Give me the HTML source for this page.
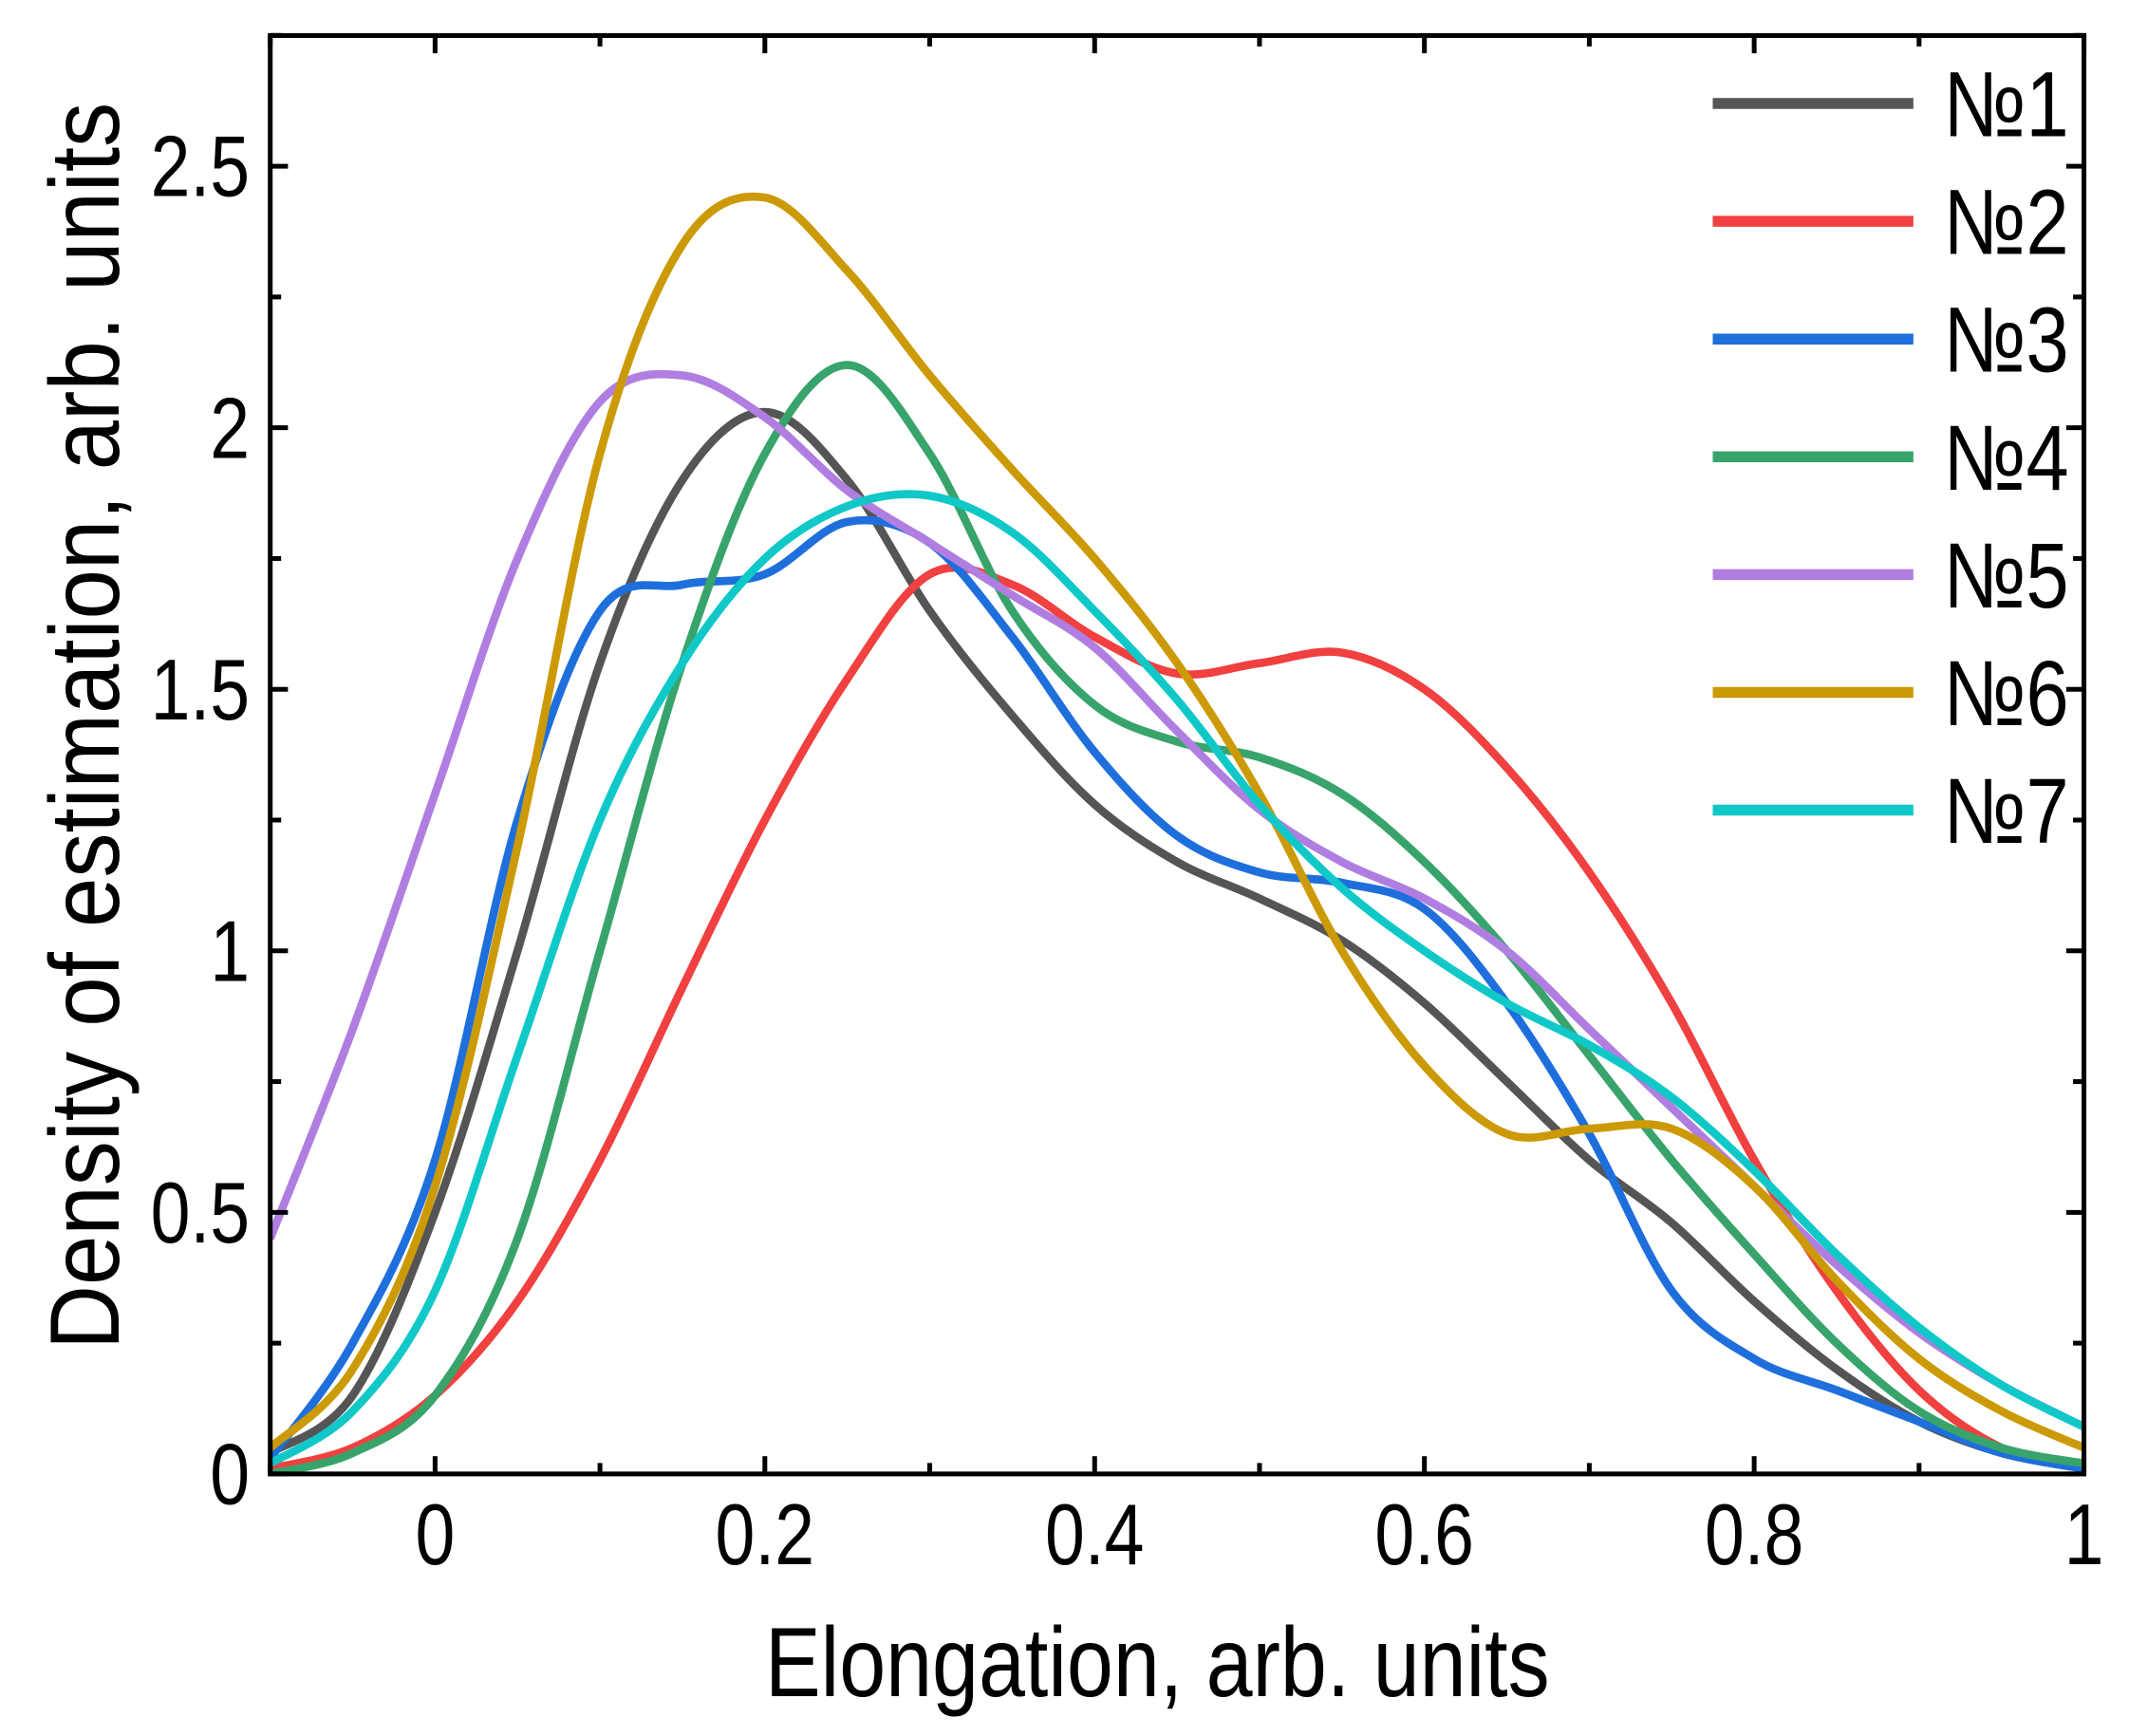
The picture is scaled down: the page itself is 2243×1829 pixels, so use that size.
<!DOCTYPE html>
<html><head><meta charset="utf-8">
<style>html,body{margin:0;padding:0;background:#fff}svg{display:block}</style>
</head><body>
<svg id="chart" width="2243" height="1829" viewBox="0 0 1560 1272" xmlns="http://www.w3.org/2000/svg" font-family="'Liberation Sans', Arial, sans-serif">
<defs><clipPath id="plotclip"><rect x="198" y="26" width="1329" height="1054"/></clipPath></defs>
<g id="curves" clip-path="url(#plotclip)"></g>
<rect x="198" y="26" width="1329" height="1054" fill="none" stroke="#000" stroke-width="3.5"/>
<g id="ticks"></g>
<g id="legend"></g>
<text class="cond" data-f="0.85" x="848" y="1243" font-size="72" text-anchor="middle">Elongation, arb. units</text>
<text class="cond" data-f="0.91" transform="translate(87,532) rotate(-90)" font-size="72" text-anchor="middle">Density of estimation, arb. units</text>
</svg>
<script>
const xs = [-0.1,-0.05,0,0.05,0.1,0.15,0.2,0.25,0.3,0.35,0.4,0.45,0.5,0.55,0.6,0.65,0.7,0.75,0.8,0.85,0.9,0.95,1.0];
const s1 = [0.04,0.15,0.5,1.0,1.55,1.9,2.03,1.9,1.65,1.45,1.28,1.17,1.1,1.02,0.9,0.75,0.6,0.48,0.33,0.2,0.1,0.04,0.01];
const s2 = [0.01,0.05,0.15,0.33,0.6,0.93,1.25,1.52,1.72,1.7,1.6,1.53,1.55,1.57,1.5,1.35,1.15,0.9,0.6,0.35,0.16,0.05,0.01];
const s3 = [0.03,0.25,0.6,1.25,1.65,1.7,1.72,1.82,1.78,1.6,1.38,1.22,1.15,1.13,1.08,0.9,0.65,0.35,0.22,0.16,0.1,0.04,0.01];
const s4 = [0.0,0.04,0.15,0.45,1.0,1.55,1.95,2.12,1.95,1.65,1.47,1.4,1.37,1.3,1.17,1.0,0.8,0.6,0.42,0.25,0.12,0.05,0.02];
const s5 = [0.45,0.85,1.3,1.75,2.05,2.1,2.02,1.88,1.78,1.68,1.58,1.42,1.27,1.17,1.1,1.0,0.85,0.7,0.55,0.4,0.27,0.17,0.09];
const s6 = [0.05,0.2,0.55,1.2,1.95,2.35,2.44,2.3,2.1,1.92,1.75,1.55,1.3,1.0,0.78,0.65,0.66,0.66,0.55,0.37,0.22,0.12,0.05];
const s7 = [0.02,0.12,0.35,0.8,1.25,1.55,1.75,1.85,1.87,1.8,1.65,1.48,1.28,1.12,1.0,0.9,0.82,0.72,0.58,0.42,0.28,0.17,0.09];
const seriesNames = ["№1","№2","№3","№4","№5","№6","№7"];
const seriesColors = ["#555555","#f04040","#1e6fdc","#38a46c","#b07ee0","#cc9a06","#10c8c8"];
const xTicks = [0,0.2,0.4,0.6,0.8,1];
const xTickLabels = ["0","0.2","0.4","0.6","0.8","1"];
const yTicks = [0,0.5,1,1.5,2,2.5];
const yTickLabels = ["0","0.5","1","1.5","2","2.5"];

const NS = "http://www.w3.org/2000/svg";
const X = v => 318.8 + v * 1208.2;
const Y = v => 1080 - v * 383.3;
const allSeries = [s1,s2,s3,s4,s5,s6,s7];

function pathFor(vals){
  const p = xs.map((x,i)=>[X(x),Y(vals[i])]);
  let d = "M"+p[0][0]+","+p[0][1];
  for(let i=0;i<p.length-1;i++){
    const p0=p[Math.max(0,i-1)],p1=p[i],p2=p[i+1],p3=p[Math.min(p.length-1,i+2)];
    const c1=[p1[0]+(p2[0]-p0[0])/6,p1[1]+(p2[1]-p0[1])/6];
    const c2=[p2[0]-(p3[0]-p1[0])/6,p2[1]-(p3[1]-p1[1])/6];
    d+=" C"+c1[0]+","+c1[1]+" "+c2[0]+","+c2[1]+" "+p2[0]+","+p2[1];
  }
  return d;
}
const curves = document.getElementById("curves");
allSeries.forEach((vals,k)=>{
  const path = document.createElementNS(NS,"path");
  path.setAttribute("d",pathFor(vals));
  path.setAttribute("fill","none");
  path.setAttribute("stroke",seriesColors[k]);
  path.setAttribute("stroke-width","6");
  
  
  curves.appendChild(path);
});

const ticks = document.getElementById("ticks");
function line(x1,y1,x2,y2,name){
  const l=document.createElementNS(NS,"line");
  l.setAttribute("x1",x1);l.setAttribute("y1",y1);l.setAttribute("x2",x2);l.setAttribute("y2",y2);
  l.setAttribute("stroke","#000");l.setAttribute("stroke-width","3.5");
  
  
  ticks.appendChild(l);
}
function text(x,y,str,anchor,name){
  const t=document.createElementNS(NS,"text");
  t.setAttribute("x",x);t.setAttribute("y",y);t.setAttribute("font-size","63");
  t.setAttribute("text-anchor",anchor);t.textContent=str;
  t.setAttribute("class","cond");
  
  
  ticks.appendChild(t);
}
for(let i=-1;i<=10;i++){
  const v=i/10, px=X(v); if(px<197||px>1528) continue;
  const major = i%2===0; const len = major?13:8;
  line(px,1080,px,1080-len,"x-tick");
  line(px,26,px,26+len,"x-tick-top");
}
for(let i=0;i<=11;i++){
  const v=i*0.25, py=Y(v); const major=i%2===0; const len=major?13:8;
  line(198,py,198+len,py,"y-tick");
  line(1527,py,1527-len,py,"y-tick-right");
}
xTicks.forEach((v,i)=>text(X(v),1146,xTickLabels[i],"middle","x-tick-label"));
yTicks.forEach((v,i)=>text(183,Y(v)+22,yTickLabels[i],"end","y-tick-label"));

const legend=document.getElementById("legend");
seriesNames.forEach((n,k)=>{
  const y=75.8+k*86.3;
  const l=document.createElementNS(NS,"line");
  l.setAttribute("x1",1255);l.setAttribute("x2",1402);l.setAttribute("y1",y);l.setAttribute("y2",y);
  l.setAttribute("stroke",seriesColors[k]);l.setAttribute("stroke-width","8");
  
  
  legend.appendChild(l);
  const t=document.createElementNS(NS,"text");
  t.setAttribute("x",1424);t.setAttribute("y",y+24);t.setAttribute("font-size","68");
  t.textContent=n;
  t.setAttribute("class","cond");
  
  
  legend.appendChild(t);
});

document.querySelectorAll("text.cond").forEach(t=>{
  const w=t.getComputedTextLength();
  const f=parseFloat(t.getAttribute("data-f")||"0.83");
  if(w>0){
    t.setAttribute("textLength",(w*f).toFixed(1));
    t.setAttribute("lengthAdjust","spacingAndGlyphs");
  }
});
</script>
</body></html>
